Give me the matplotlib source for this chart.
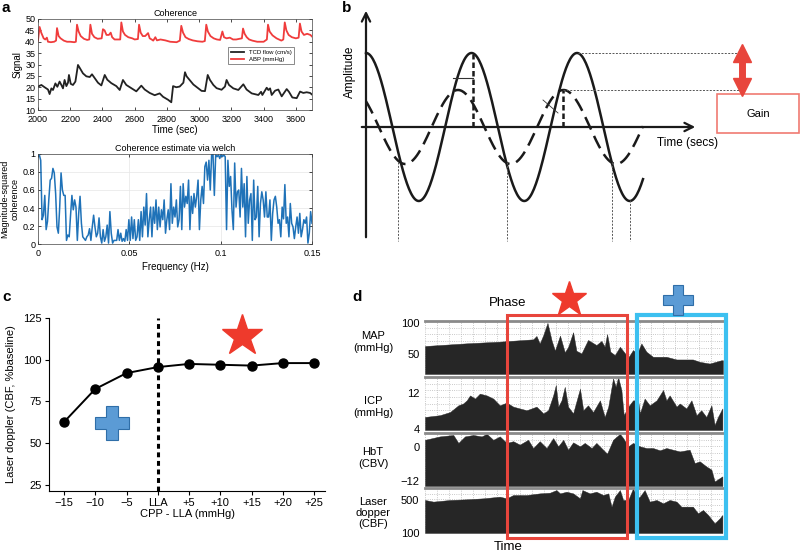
import numpy as np
import matplotlib
matplotlib.use("Agg")
import matplotlib.pyplot as plt
from matplotlib.patches import Rectangle

plt.rcParams['font.family'] = ['Liberation Sans', 'DejaVu Sans']

# ---------------- panel a data ----------------
abp_t = [2000, 2010, 2020, 2035, 2045, 2055, 2062, 2080, 2100, 2112, 2118, 2128, 2140, 2160, 2180,
         2200, 2225, 2235, 2242, 2252, 2265, 2285, 2305, 2318, 2325, 2335, 2350, 2370, 2395, 2403,
         2413, 2425, 2440, 2451, 2460, 2475, 2500, 2510, 2517, 2527, 2540, 2560, 2585, 2600, 2620,
         2627, 2637, 2650, 2665, 2683, 2693, 2705, 2715, 2728, 2738, 2760, 2790, 2820, 2860, 2880,
         2889, 2900, 2915, 2935, 2960, 2990, 3020, 3035, 3044, 3054, 3070, 3090, 3110, 3130, 3144,
         3154, 3170, 3190, 3210, 3230, 3250, 3265, 3272, 3282, 3295, 3310, 3330, 3360, 3400, 3420,
         3427, 3437, 3455, 3480, 3510, 3522, 3531, 3541, 3555, 3575, 3600, 3617, 3625, 3635, 3650,
         3670, 3690, 3700]
abp_v = [40.5, 46.5, 44, 41.5, 41, 41.8, 40, 39.8, 40, 40.5, 46, 42.5, 41.5, 40.5, 40,
         40, 39.8, 40, 47.5, 44.5, 42.5, 41.3, 40.8, 41, 47.5, 43.5, 42, 41.3, 41.5, 45.5,
         45, 43, 43, 44, 42, 41, 41, 41, 48.5, 44.5, 43, 42, 41.5, 41, 41.2,
         47.5, 44, 42.5, 42.5, 43.8, 41.5, 41, 40.5, 42, 40.6, 41, 40.6, 40, 39.8, 40.5,
         47, 44, 42, 41.2, 40.6, 40.2, 40, 40.3, 47.5, 44.5, 42.5, 41.5, 41, 40.8, 44.5,
         42, 41.5, 41.8, 41, 41, 41.3, 41.5, 45.8, 43.5, 42, 41, 40.5, 40, 40, 41,
         47.5, 44.5, 42.8, 41.5, 40.5, 41, 48.5, 45, 43, 42, 41.5, 41.8, 48, 44.5, 43,
         43.5, 43, 42.3]

tcd_t = [2000, 2021, 2041, 2062, 2072, 2083, 2093, 2108, 2120, 2134, 2145, 2155, 2165, 2176, 2186,
         2192, 2203, 2217, 2232, 2248, 2259, 2279, 2300, 2321, 2335, 2352, 2372, 2393, 2414, 2430,
         2455, 2486, 2507, 2527, 2548, 2579, 2610, 2641, 2662, 2693, 2724, 2755, 2776, 2807, 2827,
         2838, 2858, 2879, 2902, 2912, 2922, 2943, 2964, 2995, 3015, 3036, 3053, 3067, 3088, 3108,
         3139, 3160, 3170, 3185, 3212, 3243, 3274, 3294, 3326, 3367, 3384, 3392, 3419, 3429, 3440,
         3450, 3471, 3491, 3512, 3543, 3557, 3578, 3605, 3626, 3646, 3667, 3688, 3700]
tcd_v = [20.3, 21, 20, 19, 17, 19.5, 18.8, 21.7, 20.2, 22.5, 21, 19.5, 23.2, 20.5, 22,
         25.4, 21.5, 21, 22.5, 29.8, 28.5, 26.1, 24.8, 24.5, 25.7, 24, 22, 20.8, 25.4, 23.3,
         21.8, 20.5, 18.8, 23.2, 21, 19.6, 18.2, 20.7, 19, 17.5, 16.5, 17.3, 15.8, 14.5, 13.4,
         20.5, 20, 20.3, 22, 26.6, 24.8, 23, 21.2, 19.5, 18.4, 18.3, 25.4, 23.2, 21, 19.6,
         18.9, 20.3, 23.2, 21, 19.5, 18.8, 21.3, 19, 17.3, 16.6, 18, 16.6, 19.8, 18.8, 19.5,
         16.6, 18.5, 19, 16, 19.2, 18, 15.5, 15.2, 18.1, 17.5, 17.8, 17.5, 16.8]

coh_v = [1.00, 0.99, 0.93, 0.27, 0.32, 0.54, 0.16, 0.25, 0.50, 0.71, 0.73, 0.84, 0.79, 0.56, 0.19,
         0.12, 0.41, 0.79, 0.60, 0.54, 0.54, 0.04, 0.10, 0.08, 0.32, 0.54, 0.38, 0.49, 0.41, 0.04,
         0.34, 0.53, 0.23, 0.08, 0.06, 0.04, 0.08, 0.10, 0.17, 0.04, 0.19, 0.32, 0.19, 0.08, 0.12,
         0.29, 0.08, 0.01, 0.16, 0.03, 0.08, 0.21, 0.01, 0.36, 0.12, 0.01, 0.04, 0.04, 0.04, 0.16,
         0.04, 0.12, 0.03, 0.06, 0.03, 0.16, 0.04, 0.27, 0.04, 0.30, 0.06, 0.27, 0.04, 0.08, 0.27,
         0.04, 0.36, 0.08, 0.41, 0.21, 0.56, 0.08, 0.27, 0.41, 0.08, 0.41, 0.23, 0.49, 0.16, 0.41,
         0.19, 0.38, 0.27, 0.49, 0.12, 0.27, 0.38, 0.16, 0.67, 0.23, 0.41, 0.30, 0.49, 0.19, 0.27,
         0.64, 0.16, 0.67, 0.41, 0.53, 0.45, 0.71, 0.16, 0.53, 0.34, 0.56, 0.41, 0.53, 0.71, 0.16,
         0.49, 0.64, 0.45, 0.86, 0.91, 0.71, 0.93, 0.60, 0.99, 1.00, 0.54, 0.99, 0.97, 0.99, 0.95,
         1.00, 0.97, 0.99, 0.97, 0.16, 0.93, 0.64, 0.75, 0.38, 0.16, 0.90, 0.41, 0.58, 0.60, 0.30,
         0.84, 0.41, 0.67, 0.08, 0.75, 0.23, 0.49, 0.56, 0.04, 0.71, 0.27, 0.30, 0.64, 0.08, 0.45,
         0.58, 0.49, 0.30, 0.58, 0.30, 0.30, 0.49, 0.04, 0.34, 0.49, 0.53, 0.41, 0.23, 0.27, 0.08,
         0.41, 0.28, 0.66, 0.23, 0.30, 0.08, 0.45, 0.23, 0.19, 0.06, 0.19, 0.30, 0.12, 0.34, 0.08,
         0.16, 0.27, 0.23, 0.30, 0.01, 0.12, 0.36, 0.23]

# ---------------- panel b (schematic waves, pixel units) ----------------
wave_amp = [74, 37]          # solid (input), dashed (output)
wave_period = [105.5, 105.5]
wave_peak = [366, 458]

# ---------------- panel c data ----------------
cpp_labels = ["\u221215", "\u221210", "\u22125", "LLA", "+5", "+10", "+15", "+20", "+25"]
cbf_vals = [62.7, 82.5, 92, 95.6, 97.5, 97, 96.5, 98, 98]

# ---------------- panel d data (time in % of record) ----------------
map_t = [0, 14, 25.1, 36.3, 37.4, 38.5, 39.7, 41.1, 42.5, 43.6, 45.3, 46.9, 48, 49.7, 50.8,
         52.5, 54.7, 57.5, 59.2, 60.3, 61.1, 62.2, 63.7, 65.4, 66.7, 68.2, 69.8, 71.2, 72.6, 74.3,
         76.5, 81, 84.4, 89.9, 92.2, 95.5, 99.4, 100]
map_v = [62.9, 67.2, 69.9, 73.6, 79, 67, 80.5, 100, 71.6, 55.5, 79.6, 53, 61, 85, 55.3,
         51, 72.6, 64.5, 71, 61.7, 82, 53.7, 48.4, 61.7, 53.7, 44.5, 56.4, 51, 67, 53.7,
         45.6, 45.6, 41.3, 41.3, 37.5, 34.8, 40, 40]

icp_t = [0, 5, 8.4, 11.2, 12.8, 14, 15.1, 16.8, 18.4, 20.7, 22.9, 25.1, 27.4, 29.6, 31.8,
         34.1, 37.4, 39.7, 41.3, 43, 43.9, 44.7, 45.8, 46.9, 48, 49.7, 52, 53.1, 54.7, 56.4,
         58.7, 60.3, 61.5, 63.1, 64, 64.8, 65.9, 66.7, 68.2, 69.8, 71.5, 72.1, 73.7, 75.4, 77.7,
         79.9, 81, 82.1, 84.4, 85.5, 87.7, 89.4, 91.1, 92.7, 94.4, 96.1, 97.2, 98.3, 99.8]
icp_v = [6.7, 7.1, 7.8, 9.3, 9.7, 10.4, 11.5, 10.8, 11.9, 11.5, 10.8, 9.3, 9.9, 9.0, 8.6,
         8.2, 9.0, 7.5, 8.2, 11.5, 13.8, 9.0, 10.4, 13.4, 9.0, 7.5, 13.0, 8.2, 9.3, 7.8,
         10.4, 6.7, 9.0, 15.3, 13.4, 15.6, 12.7, 7.1, 9.0, 10.4, 10.4, 7.5, 10.8, 9.3, 10.4,
         12.7, 10.4, 11.5, 9.0, 9.7, 8.6, 10.4, 7.1, 8.2, 6.7, 9.3, 4.9, 6.7, 8.6]

hbt_t = [0, 5, 9.5, 11.2, 13.4, 16.2, 19, 20.7, 22.9, 25.1, 27.4, 29.6, 31.8, 34.6, 36.3,
         38.5, 40.8, 43, 44.7, 46.4, 48, 49.7, 52, 53.6, 55.9, 57.5, 59.2, 61.1, 63.1, 65.4,
         66.5, 68.2, 69.8, 72.1, 74.3, 76.5, 78.8, 81, 83.2, 85.5, 88.8, 90.5, 92.2, 94.4, 96.1,
         97.2, 98.9, 99.8]
hbt_v = [2.5, 3.7, 4.2, 1.4, 3.7, 4.2, 3.7, 4.6, 2.5, 3.7, 1.4, 2.0, 0.8, 2.5, -0.4,
         2.0, -0.4, 3.1, 0.2, 2.5, -1.0, 1.6, 0.2, 1.4, -0.4, 1.4, -0.4, -2.4, 2.5, 4.6,
         3.1, 0.2, 1.4, 0.2, -0.4, -0.4, -1.2, -0.4, -1.0, -1.6, -1.0, -5.7, -5.1, -6.9, -8.0,
         -12.2, -11, -10.4]

ldf_t = [0, 2.8, 8.4, 14, 19.6, 25.1, 27.4, 29.6, 34.1, 38.5, 41.9, 44.1, 45.3, 47.5, 49.7,
         52, 52.8, 55.3, 57.5, 59.8, 61.5, 62.6, 63.7, 65.4, 66.5, 68.2, 69.8, 71.2, 72.1, 73.7,
         75.4, 77.7, 79.9, 82.1, 84.4, 86, 89.9, 91.6, 93.3, 95, 97.2, 98.9, 99.8]
ldf_v = [500, 480, 500, 508, 520, 540, 520, 560, 560, 580, 588, 620, 580, 600, 580,
         520, 620, 580, 600, 560, 580, 419, 540, 620, 500, 500, 640, 520, 540, 620,
         480, 500, 460, 500, 480, 419, 419, 339, 379, 318, 218, 278, 318]

strip_names = ["MAP\n(mmHg)", "ICP\n(mmHg)", "HbT\n(CBV)", "Laser\ndopper\n(CBF)"]
strip_t = [map_t, icp_t, hbt_t, ldf_t]
strip_v = [map_v, icp_v, hbt_v, ldf_v]
strip_lims = [(18, 103), (3.8, 15.6), (-13.8, 4.9), (100, 645)]
strip_ticks = [[100, 50], [12, 4], [0, -12], [500, 100]]
strip_ticklabels = [["100", "50"], ["12", "4"], ["0", "\u221212"], ["500", "100"]]

# ---------------- figure ----------------
W, H = 800, 553
fig = plt.figure(figsize=(8, 5.53), dpi=100)


def px_axes(x0, y0, x1, y1):
    return fig.add_axes([x0 / W, 1 - y1 / H, (x1 - x0) / W, (y1 - y0) / H])


red = '#ee3a2c'
blue = '#5b9bd5'

# panel a, top
ax1 = px_axes(38, 19, 312, 110)
ax1.plot(tcd_t, tcd_v, color='#222222', lw=1.3, label='TCD flow (cm/s)')
ax1.plot(abp_t, abp_v, color='#f03c3c', lw=1.3, label='ABP (mmHg)')
ax1.set_xlim(2000, 3700)
ax1.set_ylim(10, 50)
ax1.set_xticks(range(2000, 3601, 200))
ax1.set_yticks(range(10, 51, 5))
ax1.tick_params(direction='in', length=2, width=0.5, labelsize=6.5, pad=2, top=True, right=True)
ax1.tick_params(axis='x', pad=3.5)
for s in ax1.spines.values():
    s.set_linewidth(0.5)
    s.set_color('#444444')
ax1.set_title('Coherence', fontsize=6.5, pad=2)
ax1.set_xlabel('Time (sec)', fontsize=7, labelpad=1)
ax1.set_ylabel('Signal', fontsize=7, labelpad=2)
leg = ax1.legend(loc='upper right', bbox_to_anchor=(0.945, 0.72), fontsize=4.3, frameon=True,
                 fancybox=False, edgecolor='#333333', handlelength=2.2, borderpad=0.4,
                 labelspacing=0.3)
leg.get_frame().set_linewidth(0.5)

# panel a, bottom
ax2 = px_axes(38, 154, 312, 244)
ax2.plot(np.linspace(0, 0.15, len(coh_v)), coh_v, color='#1f72b8', lw=1.1)
ax2.set_xlim(0, 0.15)
ax2.set_ylim(0, 1)
ax2.set_xticks([0, 0.05, 0.1, 0.15])
ax2.set_xticklabels(['0', '0.05', '0.1', '0.15'])
ax2.set_yticks([0, 0.2, 0.4, 0.6, 0.8, 1])
ax2.set_yticklabels(['0', '0.2', '0.4', '0.6', '0.8', '1'])
ax2.grid(color='#e6e6e6', lw=0.5)
ax2.tick_params(direction='in', length=2, width=0.5, labelsize=6.5, pad=2, top=True, right=True)
ax2.tick_params(axis='x', pad=3.5)
for s in ax2.spines.values():
    s.set_linewidth(0.5)
    s.set_color('#444444')
ax2.set_title('Coherence estimate via welch', fontsize=6.5, pad=2)
ax2.set_xlabel('Frequency (Hz)', fontsize=7, labelpad=3)
ax2.set_ylabel('Magnitude-squared\ncoherence', fontsize=6.5, labelpad=2)

# panel c
axc = px_axes(49, 318, 325, 491)
axc.axvline(3, ls=(0, (1.6, 1.2)), lw=2.2, color='k', zorder=1)
axc.plot(range(len(cbf_vals)), cbf_vals, '-o', color='k', lw=1.4, ms=6.5, zorder=3)
axc.plot(5.7, 114.5, marker='*', ms=31, color=red, mec=red, clip_on=False, zorder=4)
axc.plot(1.55, 62, marker='P', ms=24, mfc=blue, mec='#2f6ea8', mew=0.8, zorder=4)
axc.set_xlim(-0.48, 8.35)
axc.set_ylim(21.4, 125)
axc.set_xticks(range(len(cpp_labels)))
axc.set_xticklabels(cpp_labels)
axc.set_yticks([25, 50, 75, 100, 125])
axc.spines['top'].set_visible(False)
axc.spines['right'].set_visible(False)
axc.tick_params(direction='out', length=3, width=0.8, labelsize=8, pad=2)
axc.set_xlabel('CPP - LLA (mmHg)', fontsize=8, labelpad=1)
axc.set_ylabel('Laser doppler (CBF, %baseline)', fontsize=8, labelpad=5)

# panel d
strip_px = [(321, 374), (377, 430), (433, 486), (488, 533)]
for i, (y0, y1) in enumerate(strip_px):
    ax = px_axes(425, y0, 723, y1)
    lo, hi = strip_lims[i]
    ax.fill_between(strip_t[i], lo, strip_v[i], color='#262626', lw=0.3, zorder=2)
    ax.set_xlim(0, 100)
    ax.set_ylim(lo, hi)
    ax.set_xticks(np.arange(0, 101, 4), minor=True)
    ax.set_yticks(np.linspace(lo, hi, 9), minor=True)
    ax.set_xticks([])
    ax.set_yticks(strip_ticks[i])
    ax.set_yticklabels(strip_ticklabels[i])
    ax.grid(which='minor', color='#b8b8b8', ls=':', lw=0.6, zorder=0)
    ax.tick_params(which='both', length=0, labelsize=8, pad=4)
    for k in ['left', 'right', 'bottom']:
        ax.spines[k].set_visible(False)
    ax.spines['top'].set_color('#8a8a8a')
    ax.spines['top'].set_linewidth(2)

# overlay for schematic, annotations and panel letters
ov = fig.add_axes([0, 0, 1, 1])
ov.set_xlim(0, W)
ov.set_ylim(H, 0)
ov.axis('off')

# panel b
xs = np.arange(366, 644)
for j, ls in enumerate(['-', (0, (5.5, 2.8))]):
    ys = 127 - wave_amp[j] * np.cos(2 * np.pi * (xs - wave_peak[j]) / wave_period[j])
    ov.plot(xs, ys, color='#1a1a1a', lw=1.8, ls=ls)
ov.annotate('', xy=(366, 8), xytext=(366, 240),
            arrowprops=dict(arrowstyle='->,head_length=0.6,head_width=0.3', lw=1.6, color='#1a1a1a'))
ov.annotate('', xy=(698, 127), xytext=(359, 127),
            arrowprops=dict(arrowstyle='->,head_length=0.6,head_width=0.3', lw=1.6, color='#1a1a1a'))
ov.plot([473, 473], [127, 54], color='#1a1a1a', lw=1.8, ls=(0, (2.2, 1.2)))
ov.plot([563, 563], [127, 90], color='#1a1a1a', lw=1.8, ls=(0, (2.2, 1.2)))
ov.plot([453, 473], [78, 78], color='#333333', lw=0.8)
ov.plot([543, 558], [100, 113], color='#333333', lw=0.6)
ov.plot([578, 740], [53, 53], color='#555555', lw=0.7, ls=(0, (2, 1.5)))
ov.plot([563, 740], [90, 90], color='#555555', lw=0.7, ls=(0, (2, 1.5)))
for xv, yv in [(398, 162), (507, 162), (612, 162), (630, 200)]:
    ov.plot([xv, xv], [yv, 241], color='#555555', lw=0.7, ls=(0, (2, 1.5)))
ov.plot([742, 742], [57, 83], color='#e8453c', lw=5, solid_capstyle='butt')
ov.plot(742, 53, marker='^', ms=13, color='#e8453c')
ov.plot(742, 87, marker='v', ms=13, color='#e8453c')
ov.add_patch(Rectangle((717, 94), 82, 39, fill=False, ec='#f07a72', lw=1.2))
ov.text(758, 114, 'Gain', fontsize=8, ha='center', va='center')
ov.text(688, 143, 'Time (secs)', fontsize=8.5, ha='center', va='center')
ov.text(350, 72, 'Amplitude', fontsize=8.5, ha='center', va='center', rotation=90)

# panel d annotations
for name, yc in zip(strip_names, [342, 407, 458, 513]):
    ov.text(373, yc, name, fontsize=8, ha='center', va='center', linespacing=1.15)
ov.add_patch(Rectangle((507, 315), 120, 223, fill=False, ec='#e8453c', lw=2.2))
ov.add_patch(Rectangle((637, 315), 89, 223, fill=False, ec='#3cc0f0', lw=3))
ov.text(508, 303, 'Phase', fontsize=9.5, ha='center', va='center')
ov.text(508, 547, 'Time', fontsize=9.5, ha='center', va='center')
ov.plot(569, 299, marker='*', ms=26, color=red)
ov.plot(678, 300, marker='P', ms=21, mfc=blue, mec='#2f6ea8', mew=0.8)

# panel letters
for lab, (lx, ly) in zip('abcd', [(2, 8), (342, 8), (2, 297), (352, 297)]):
    ov.text(lx, ly, lab, fontsize=11, fontweight='bold', ha='left', va='center')

fig.savefig('out.png', dpi=100)
